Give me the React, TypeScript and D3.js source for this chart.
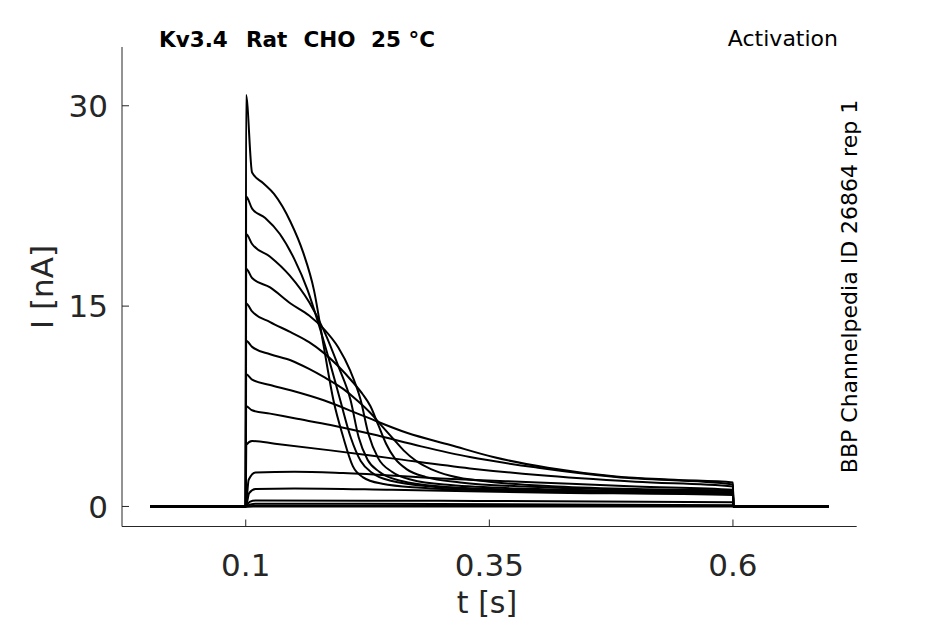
import * as d3 from 'd3';

const W = 945;
const H = 624;

// axis ticks
const tTicks = [0.1, 0.35, 0.6];
const iTicks = [0, 15, 30];

// voltage-step protocol times [s]
const holdStart = 0.002;
const stepOn = 0.1;
const stepOff = 0.6;
const holdEnd = 0.698;

// title pieces
const titleWords = ['Kv3.4', 'Rat', 'CHO', '25 °C'];
const protocolName = 'Activation';
const sourceLabel = 'BBP Channelpedia ID 26864 rep 1';

// current traces during the step, [t (s), I (nA)]
const trace01 = [[0.1003, 30.8], [0.1065, 25.0], [0.118, 24.2], [0.129, 23.4], [0.146, 21.3], [0.159, 19.0], [0.17, 16.2], [0.18, 12.0], [0.19, 7.95], [0.2, 5.2], [0.21, 3.0], [0.22, 2.2], [0.24, 1.7], [0.28, 1.4], [0.35, 1.2], [0.45, 1.05], [0.6, 0.95]];
const trace02 = [[0.1004, 23.2], [0.1065, 22.3], [0.12, 21.6], [0.135, 20.4], [0.15, 18.5], [0.1635, 16.2], [0.175, 13.6], [0.187, 10.6], [0.197, 7.95], [0.2076, 5.2], [0.218, 3.4], [0.23, 2.5], [0.25, 1.9], [0.29, 1.5], [0.36, 1.25], [0.45, 1.1], [0.6, 1.0]];
const trace03 = [[0.1004, 20.4], [0.1065, 19.65], [0.125, 18.7], [0.145, 17.3], [0.165, 15.3], [0.18, 13.2], [0.195, 10.5], [0.2076, 7.95], [0.2158, 5.2], [0.225, 3.5], [0.237, 2.6], [0.26, 1.9], [0.3, 1.5], [0.38, 1.25], [0.47, 1.1], [0.6, 1.0]];
const trace04 = [[0.1004, 17.8], [0.1065, 17.1], [0.125, 16.4], [0.146, 15.2], [0.165, 14.3], [0.18, 13.3], [0.195, 11.9], [0.207, 10.2], [0.218, 7.95], [0.226, 5.4], [0.236, 3.6], [0.25, 2.6], [0.27, 2.0], [0.31, 1.6], [0.4, 1.3], [0.5, 1.15], [0.6, 1.05]];
const trace05 = [[0.1004, 15.2], [0.1065, 14.6], [0.125, 13.8], [0.146, 13.05], [0.165, 12.3], [0.18, 11.5], [0.195, 10.5], [0.21, 9.3], [0.22, 8.4], [0.228, 7.5], [0.236, 6.1], [0.244, 4.7], [0.253, 3.6], [0.265, 2.8], [0.285, 2.2], [0.32, 1.8], [0.4, 1.45], [0.5, 1.25], [0.6, 1.15]];
const trace06 = [[0.1004, 12.4], [0.1065, 11.95], [0.125, 11.4], [0.146, 10.95], [0.165, 10.3], [0.18, 9.7], [0.2, 8.8], [0.215, 7.9], [0.228, 7.0], [0.24, 6.0], [0.251, 5.1], [0.262, 4.2], [0.275, 3.4], [0.29, 2.8], [0.31, 2.3], [0.35, 1.85], [0.42, 1.5], [0.5, 1.3], [0.6, 1.2]];
const trace07 = [[0.1004, 9.9], [0.1065, 9.5], [0.125, 9.1], [0.146, 8.7], [0.18, 7.95], [0.22, 6.8], [0.266, 5.5], [0.31, 4.6], [0.354, 3.7], [0.41, 2.9], [0.48, 2.25], [0.54, 2.0], [0.6, 1.8]];
const trace08 = [[0.1004, 7.5], [0.1065, 7.2], [0.125, 6.95], [0.15, 6.6], [0.187, 6.1], [0.23, 5.4], [0.28, 4.5], [0.33, 3.7], [0.4, 2.9], [0.48, 2.2], [0.6, 1.65]];
const trace09 = [[0.1005, 4.6], [0.1065, 4.9], [0.13, 4.7], [0.187, 4.2], [0.25, 3.6], [0.33, 2.85], [0.4, 2.35], [0.5, 1.85], [0.6, 1.5]];
const trace10 = [[0.103, 2.0], [0.11, 2.55], [0.15, 2.6], [0.2, 2.5], [0.3, 2.1], [0.4, 1.8], [0.5, 1.5], [0.6, 1.25]];
const trace11 = [[0.1035, 1.0], [0.11, 1.3], [0.15, 1.35], [0.25, 1.25], [0.4, 1.05], [0.6, 0.85]];
const trace12 = [[0.104, 0.35], [0.11, 0.45], [0.3, 0.42], [0.6, 0.32]];
const trace13 = [[0.105, 0.15], [0.11, 0.2], [0.6, 0.1]];
const trace14 = [[0.11, 0.05], [0.6, 0.05]];
const trace15 = [[0.11, 0.0], [0.6, 0.0]];

const traces = [trace01, trace02, trace03, trace04, trace05, trace06, trace07, trace08, trace09, trace10, trace11, trace12, trace13, trace14, trace15];

const ink = '#262626';
const font = '"DejaVu Sans", sans-serif';

export default function App() {
  const x = d3.scaleLinear().domain([-0.027, 0.727]).range([122, 856.7]);
  const y = d3.scaleLinear().domain([-1.5, 34.4]).range([526.5, 47]);

  const line = d3
    .line<number[]>()
    .x((d) => x(d[0]))
    .y((d) => y(d[1]))
    .curve(d3.curveMonotoneX);

  const full = (tr: number[][]) => [
    [holdStart, 0],
    [stepOn, 0],
    ...tr,
    [stepOff + 0.0004, 0],
    [holdEnd, 0],
  ];

  const [x0, x1] = x.range();
  const [y0, y1] = y.range();

  // word starts of the bold title (MATLAB-like wide gaps)
  const titleX = [159, 246, 303.5, 371];

  return (
    <svg
      width={W}
      height={H}
      style={{ position: 'absolute', left: 0, top: 0, background: '#fff' }}
      fontFamily={font}
    >
      {/* traces */}
      {traces.map((tr, i) => (
        <path key={i} d={line(full(tr))!} fill="none" stroke="#000" strokeWidth={2} strokeLinejoin="round" />
      ))}

      {/* spines */}
      <line x1={x0} x2={x1} y1={y0} y2={y0} stroke={ink} strokeWidth={1} />
      <line x1={x0} x2={x0} y1={y0} y2={y1} stroke={ink} strokeWidth={1} />

      {/* x ticks */}
      {tTicks.map((t) => (
        <g key={t}>
          <line x1={x(t)} x2={x(t)} y1={y0} y2={y0 - 7} stroke={ink} />
          <text x={x(t)} y={576} textAnchor="middle" fontSize={31} fill={ink}>
            {t}
          </text>
        </g>
      ))}
      {/* y ticks */}
      {iTicks.map((v) => (
        <g key={v}>
          <line x1={x0} x2={x0 + 7} y1={y(v)} y2={y(v)} stroke={ink} />
          <text x={108} y={y(v)} dy="0.36em" textAnchor="end" fontSize={31} fill={ink}>
            {v}
          </text>
        </g>
      ))}

      {/* axis labels */}
      <text x={487} y={613} textAnchor="middle" fontSize={30} fill={ink}>
        t [s]
      </text>
      <text transform="translate(53,287) rotate(-90)" textAnchor="middle" fontSize={31} fill={ink}>
        I [nA]
      </text>

      {/* titles */}
      {titleWords.map((w, i) => (
        <text key={w} x={titleX[i]} y={46.5} fontSize={21.5} fontWeight="bold" fill="#000">
          {w}
        </text>
      ))}
      <text x={838} y={46} textAnchor="end" fontSize={22} fill="#000">
        {protocolName}
      </text>
      <text transform="translate(857,286.5) rotate(-90)" textAnchor="middle" fontSize={22} fill="#000">
        {sourceLabel}
      </text>
    </svg>
  );
}
